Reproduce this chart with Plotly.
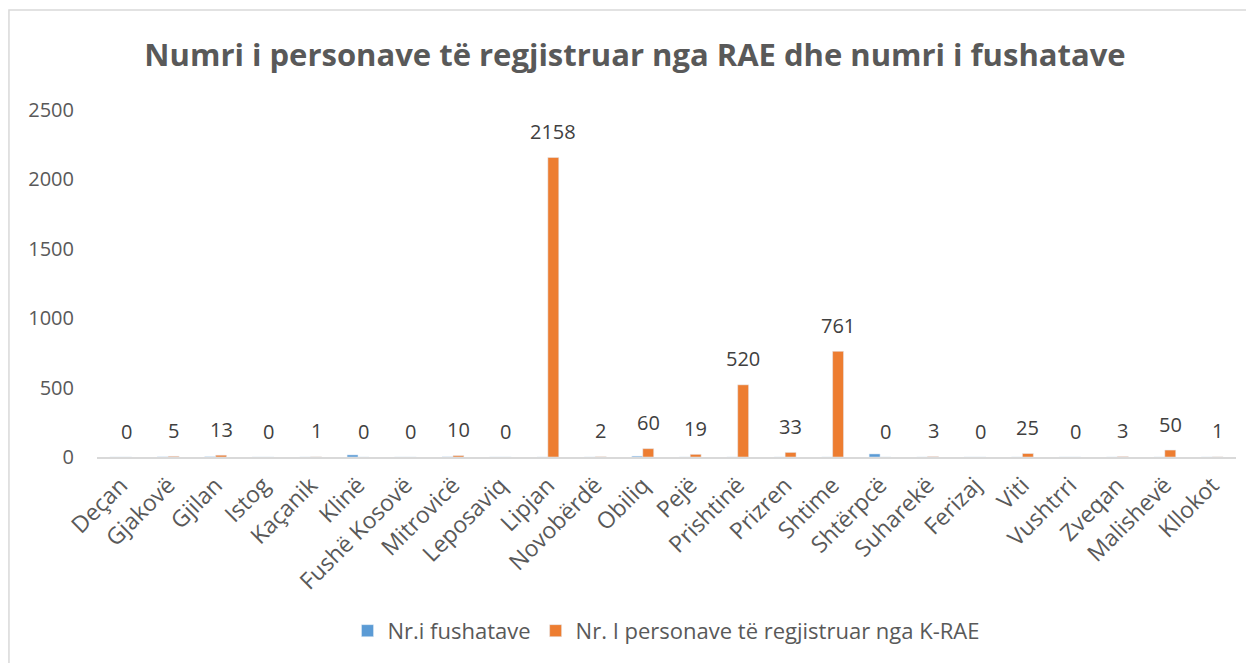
import plotly.graph_objects as go

categories = ["Deçan", "Gjakovë", "Gjilan", "Istog", "Kaçanik", "Klinë", "Fushë Kosovë",
              "Mitrovicë", "Leposaviq", "Lipjan", "Novobërdë", "Obiliq", "Pejë", "Prishtinë",
              "Prizren", "Shtime", "Shtërpcë", "Suharekë", "Ferizaj", "Viti", "Vushtrri",
              "Zveqan", "Malishevë", "Kllokot"]
fushata = [0, 1, 2, 0, 0, 15, 0, 1, 0, 0, 0, 6, 0, 0, 0, 0, 22, 0, 0, 0, 0, 0, 0, 0]
personat = [0, 5, 13, 0, 1, 0, 0, 10, 0, 2158, 2, 60, 19, 520, 33, 761, 0, 3, 0, 25, 0, 3, 50, 1]
y_ticks = [0, 500, 1000, 1500, 2000, 2500]

label_color = "#404040"
text_color = "#595959"
font_family = "Open Sans, Carlito, Liberation Sans, sans-serif"

fig = go.Figure()
fig.add_trace(go.Bar(x=categories, y=fushata, name="Nr.i fushatave",
                     marker=dict(color="#5B9BD5")))
fig.add_trace(go.Bar(x=categories, y=personat, name="Nr. I personave të regjistruar nga K-RAE",
                     marker=dict(color="#ED7D31")))

for c, v in zip(categories, personat):
    fig.add_annotation(x=c, y=v, text=str(v), showarrow=False, xshift=5.5, yshift=26,
                       font=dict(size=20, color=label_color, family=font_family))

fig.update_layout(
    width=1254, height=663,
    margin=dict(l=89, r=26, t=102, b=214),
    paper_bgcolor="white", plot_bgcolor="white",
    barmode="group", bargap=0.54, bargroupgap=0,
    font=dict(family=font_family, color=text_color),
    title=dict(text="<b>Numri i personave të regjistruar nga RAE dhe numri i fushatave</b>",
               x=0.5, xanchor="center", y=0.929, yanchor="middle",
               font=dict(size=31, color=text_color, family=font_family)),
    legend=dict(orientation="h", x=0.5, xanchor="center", y=-0.501, yanchor="middle",
                font=dict(size=22, color=text_color), itemwidth=30,
                traceorder="normal"),
    showlegend=True,
)
fig.update_xaxes(tickangle=-45, tickfont=dict(size=23, color=text_color),
                 showline=True, linecolor="#d9d9d9", linewidth=1.5, ticks="",
                 showgrid=False, ticklabelstandoff=4)
fig.update_yaxes(range=[0, 2500], tickvals=y_ticks, showgrid=False, zeroline=False,
                 showline=False, tickfont=dict(size=20, color=text_color),
                 ticklabelstandoff=22)

fig.add_shape(type="rect", xref="paper", yref="paper",
              x0=-0.0773, x1=1.014, y0=-0.64, y1=1.288,
              line=dict(color="#d9d9d9", width=1.5), fillcolor="rgba(0,0,0,0)")

fig.write_html("out.html")
